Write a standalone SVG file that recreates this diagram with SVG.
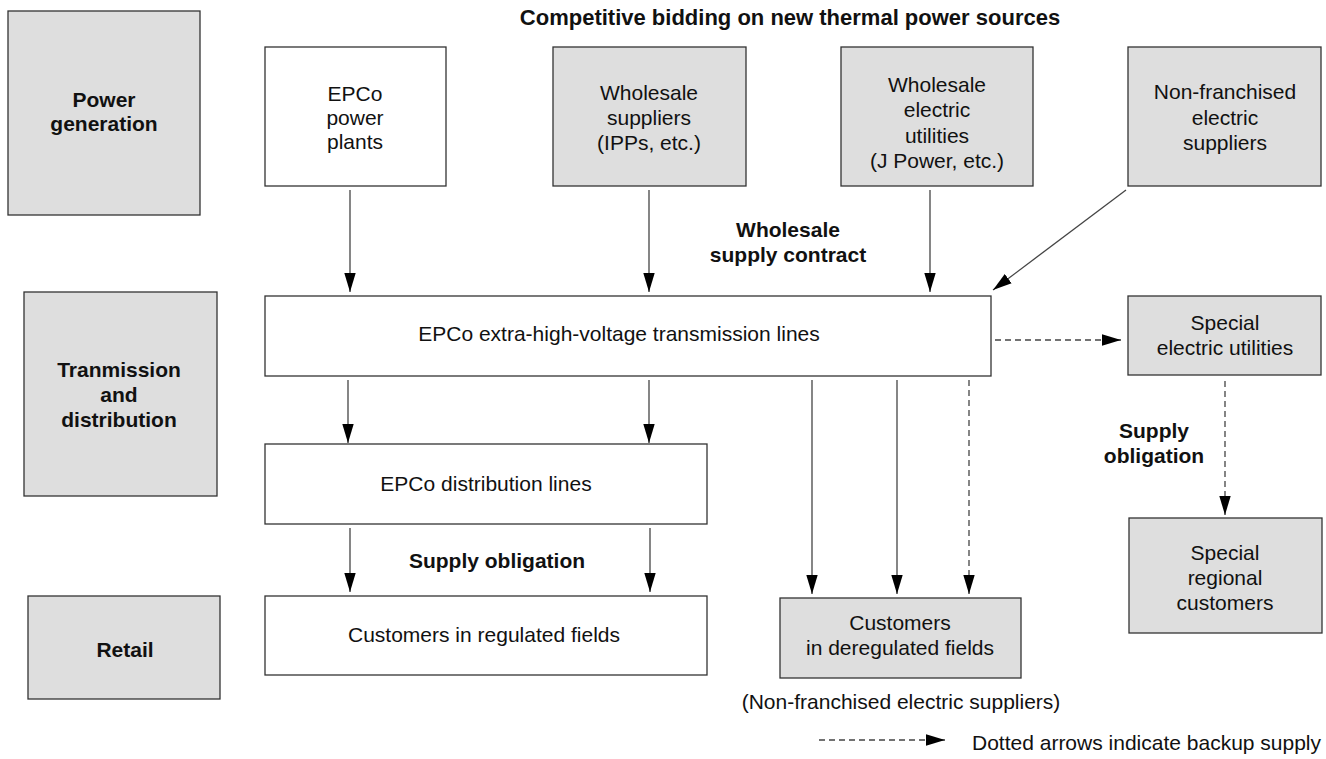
<svg xmlns="http://www.w3.org/2000/svg" width="1326" height="759" viewBox="0 0 1326 759">
  <defs>
    <marker id="head" viewBox="0 0 20 12" refX="20" refY="6" markerWidth="19" markerHeight="12" markerUnits="userSpaceOnUse" orient="auto">
      <path d="M0,0 L20,6 L0,12 Z" fill="#000"/>
    </marker>
    <style>
      .box { stroke: #333; stroke-width: 1.3; }
      .white { fill: #fff; }
      .grey { fill: #dedede; }
      text { font-family: "Liberation Sans", Arial, sans-serif; font-size: 21px; fill: #111; text-anchor: middle; }
      .b { font-weight: bold; }
      .title { font-size: 22px; }
      .line { stroke: #444; stroke-width: 1.3; fill: none; marker-end: url(#head); }
      .dash { stroke-dasharray: 6 4; }
    </style>
  </defs>
  <rect width="1326" height="759" fill="#fff"/>

  <!-- headings -->
  <text class="b title" x="790" y="25">Competitive bidding on new thermal power sources</text>
  <text class="b" x="788" y="237">Wholesale</text>
  <text class="b" x="788" y="262">supply contract</text>
  <text class="b" x="497" y="568">Supply obligation</text>
  <text class="b" x="1154" y="438">Supply</text>
  <text class="b" x="1154" y="463">obligation</text>

  <!-- stage labels -->
  <g id="stage-generation">
    <rect class="box grey" x="8" y="11" width="192" height="204"/>
    <text class="b" x="104" y="107">Power</text>
    <text class="b" x="104" y="131">generation</text>
  </g>
  <g id="stage-transmission">
    <rect class="box grey" x="24" y="292" width="193" height="204"/>
    <text class="b" x="119" y="377">Tranmission</text>
    <text class="b" x="119" y="402">and</text>
    <text class="b" x="119" y="427">distribution</text>
  </g>
  <g id="stage-retail">
    <rect class="box grey" x="28" y="596" width="192" height="103"/>
    <text class="b" x="125" y="657">Retail</text>
  </g>

  <!-- generators -->
  <g id="epco-plants">
    <rect class="box white" x="265" y="47" width="181" height="139"/>
    <text x="355" y="101">EPCo</text>
    <text x="355" y="125">power</text>
    <text x="355" y="149">plants</text>
  </g>
  <g id="wholesale-suppliers">
    <rect class="box grey" x="553" y="47" width="193" height="139"/>
    <text x="649" y="100">Wholesale</text>
    <text x="649" y="125">suppliers</text>
    <text x="649" y="150">(IPPs, etc.)</text>
  </g>
  <g id="wholesale-utilities">
    <rect class="box grey" x="841" y="47" width="192" height="139"/>
    <text x="937" y="92">Wholesale</text>
    <text x="937" y="117">electric</text>
    <text x="937" y="143">utilities</text>
    <text x="937" y="168">(J Power, etc.)</text>
  </g>
  <g id="nonfranchised-suppliers">
    <rect class="box grey" x="1128" y="47" width="193" height="139"/>
    <text x="1225" y="99">Non-franchised</text>
    <text x="1225" y="125">electric</text>
    <text x="1225" y="150">suppliers</text>
  </g>

  <!-- grid -->
  <g id="transmission-lines">
    <rect class="box white" x="265" y="296" width="726" height="80"/>
    <text x="619" y="341">EPCo extra-high-voltage transmission lines</text>
  </g>
  <g id="special-utilities">
    <rect class="box grey" x="1128" y="296" width="193" height="79"/>
    <text x="1225" y="330">Special</text>
    <text x="1225" y="355">electric utilities</text>
  </g>
  <g id="distribution-lines">
    <rect class="box white" x="265" y="444" width="442" height="80"/>
    <text x="486" y="491">EPCo distribution lines</text>
  </g>

  <!-- customers -->
  <g id="regulated-customers">
    <rect class="box white" x="265" y="596" width="442" height="79"/>
    <text x="484" y="642">Customers in regulated fields</text>
  </g>
  <g id="deregulated-customers">
    <rect class="box grey" x="780" y="598" width="241" height="80"/>
    <text x="900" y="630">Customers</text>
    <text x="900" y="655">in deregulated fields</text>
    <text x="901" y="709">(Non-franchised electric suppliers)</text>
  </g>
  <g id="regional-customers">
    <rect class="box grey" x="1129" y="518" width="193" height="115"/>
    <text x="1225" y="560">Special</text>
    <text x="1225" y="585">regional</text>
    <text x="1225" y="610">customers</text>
  </g>

  <!-- connectors -->
  <g id="connectors">
    <line class="line" x1="350" y1="190" x2="350" y2="292"/>
    <line class="line" x1="649" y1="190" x2="649" y2="292"/>
    <line class="line" x1="930" y1="190" x2="930" y2="292"/>
    <line class="line" x1="1126" y1="190" x2="993" y2="290"/>
    <line class="line dash" x1="995" y1="340" x2="1121" y2="340"/>
    <line class="line" x1="348" y1="380" x2="348" y2="443"/>
    <line class="line" x1="649" y1="380" x2="649" y2="443"/>
    <line class="line" x1="350" y1="528" x2="350" y2="592"/>
    <line class="line" x1="650" y1="528" x2="650" y2="592"/>
    <line class="line" x1="812" y1="380" x2="812" y2="594"/>
    <line class="line" x1="897" y1="380" x2="897" y2="594"/>
    <line class="line dash" x1="969" y1="380" x2="969" y2="594"/>
    <line class="line dash" x1="1225" y1="381" x2="1225" y2="515"/>
  </g>

  <!-- legend -->
  <g id="legend">
    <line class="line dash" x1="819" y1="740" x2="945" y2="740"/>
    <text x="972" y="750" style="text-anchor:start">Dotted arrows indicate backup supply</text>
  </g>
</svg>
